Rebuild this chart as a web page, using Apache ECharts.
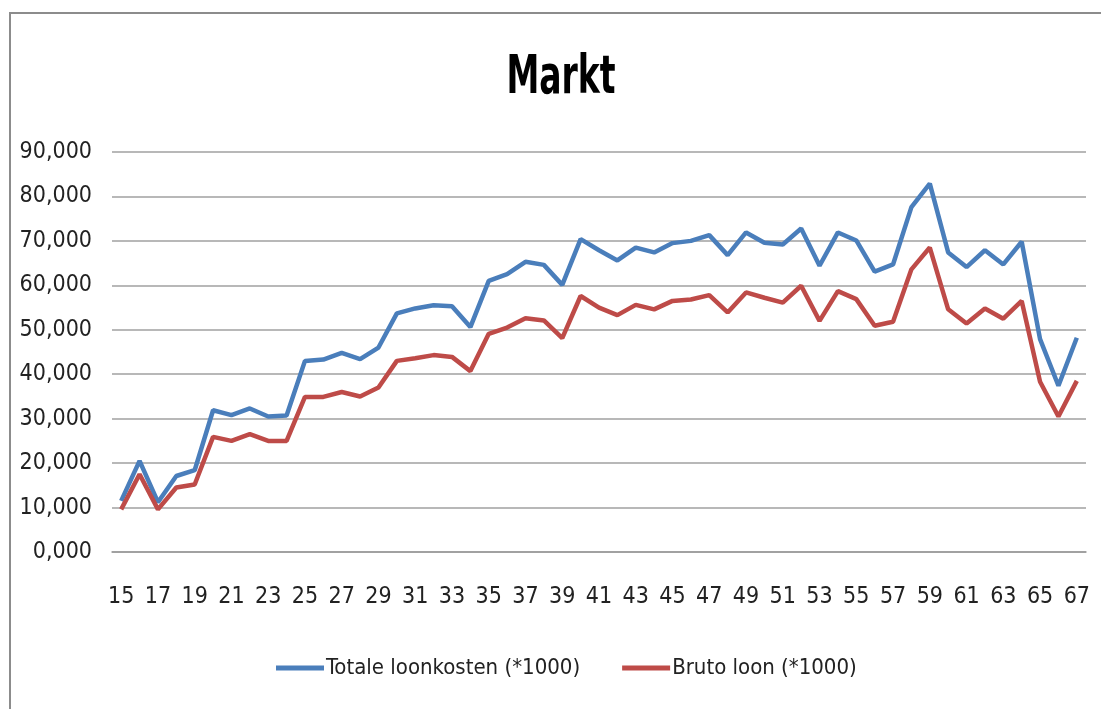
<!DOCTYPE html>
<html>
<head>
<meta charset="utf-8">
<script src="https://cdn.jsdelivr.net/npm/echarts@6/dist/echarts.min.js"></script>
<style>
html,body{margin:0;padding:0;background:#fff;}
#chart{width:1101px;height:709px;}
</style>
</head>
<body>
<div id="chart"></div>
<script>
const ages = ['15','16','17','18','19','20','21','22','23','24','25','26','27','28','29','30','31','32','33','34','35','36','37','38','39','40','41','42','43','44','45','46','47','48','49','50','51','52','53','54','55','56','57','58','59','60','61','62','63','64','65','66','67'];
const totaleLoonkosten = [11500,20500,11200,17100,18400,31900,30800,32300,30500,30700,43000,43300,44800,43400,46000,53700,54800,55500,55300,50600,61000,62500,65300,64600,60100,70400,67900,65600,68500,67400,69500,70000,71300,66800,71900,69600,69200,72800,64400,71900,70100,63100,64700,77600,82900,67400,64100,67900,64700,69800,47900,37400,48200];
const brutoLoon = [9600,17500,9600,14500,15200,25900,25000,26500,25000,25000,34900,34900,36000,35000,37000,43000,43600,44300,43900,40700,49100,50500,52600,52100,48100,57600,55000,53300,55600,54600,56500,56800,57800,53900,58400,57200,56100,59900,52000,58700,56900,50900,51800,63600,68500,54600,51400,54800,52500,56500,38300,30500,38500];
const yTickLabels = ['0,000','10,000','20,000','30,000','40,000','50,000','60,000','70,000','80,000','90,000'];
const seriesNames = ['Totale loonkosten (*1000)','Bruto loon (*1000)'];
const chartTitle = 'Markt';

const FONT = "'Liberation Sans Narrow','DejaVu Sans Condensed','Arial Narrow',sans-serif";
const chart = echarts.init(document.getElementById('chart'), null, {renderer:'canvas'});
chart.setOption({
  backgroundColor:'#fff',
  animation:false,
  graphic:[
    {type:'rect',shape:{x:10,y:13,width:1200,height:800},style:{fill:'none',stroke:'#8c8c8c',lineWidth:2},silent:true},
    {type:'text',x:561,y:79,scaleX:0.68,scaleY:1,
      style:{text:chartTitle,x:0,y:0,align:'center',verticalAlign:'middle',fontFamily:FONT,fontSize:54,fontWeight:'bold',fill:'#000'},silent:true}
  ],
  legend:{top:652,left:271,icon:'rect',itemWidth:48,itemHeight:5,itemGap:42,
    textStyle:{fontFamily:FONT,fontSize:22,color:'#222',padding:[0,0,0,-3]},data:seriesNames},
  grid:{left:112,right:15,top:152,bottom:157,containLabel:false},
  xAxis:{type:'category',data:ages,boundaryGap:true,
    axisLine:{show:true,lineStyle:{color:'#999',width:1.5}},axisTick:{show:false},
    axisLabel:{interval:1,margin:34,fontFamily:FONT,fontSize:23,color:'#222'}},
  yAxis:{type:'value',min:0,max:90000,interval:10000,
    axisLine:{show:false},axisTick:{show:false},
    splitLine:{lineStyle:{color:'#a0a0a0',width:1.5}},
    axisLabel:{margin:20,fontFamily:FONT,fontSize:23,color:'#222',
      formatter:function(v){return yTickLabels[Math.round(v/10000)];}}},
  series:[
    {name:seriesNames[0],type:'line',data:totaleLoonkosten,symbol:'none',lineStyle:{width:4.5,color:'#4a7ebb'},itemStyle:{color:'#4a7ebb'}},
    {name:seriesNames[1],type:'line',data:brutoLoon,symbol:'none',lineStyle:{width:4.5,color:'#be4b48'},itemStyle:{color:'#be4b48'}}
  ]
});
</script>
</body>
</html>
